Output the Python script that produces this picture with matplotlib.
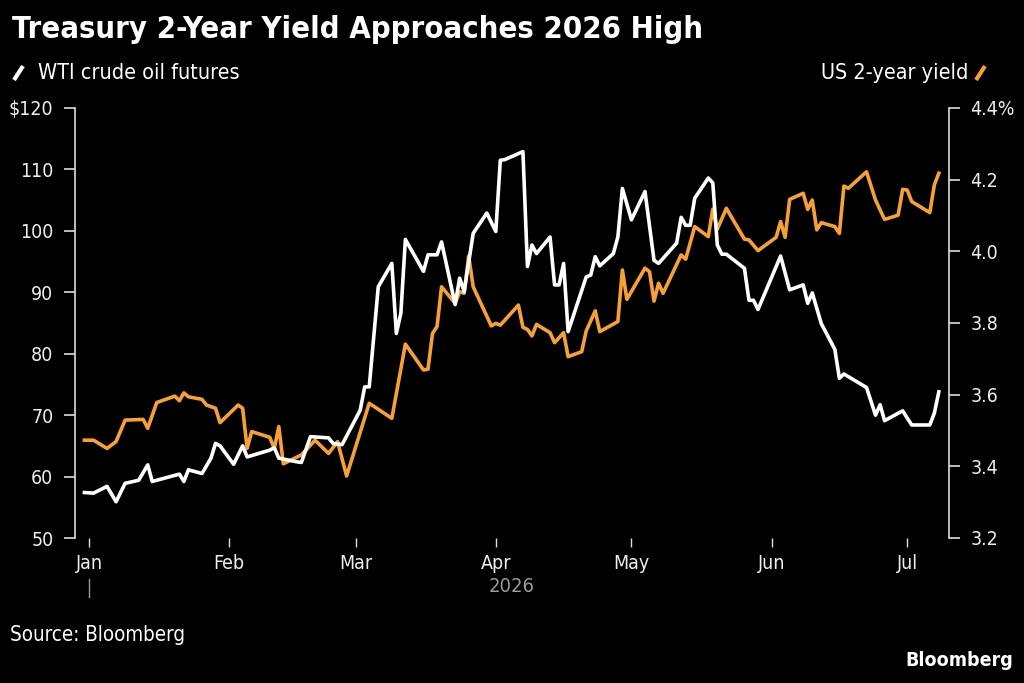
import matplotlib
matplotlib.use("Agg")
import matplotlib.pyplot as plt
import matplotlib.dates as mdates
import matplotlib.transforms as mtrans
import pandas as pd
from matplotlib.lines import Line2D

plt.rcParams["font.family"] = ["DejaVu Sans"]
plt.rcParams["font.stretch"] = "condensed"

# ---------------- data ----------------
oil_dates = ["2025-12-31", "2026-01-02", "2026-01-05", "2026-01-07", "2026-01-09", "2026-01-12",
             "2026-01-14", "2026-01-15", "2026-01-21", "2026-01-22", "2026-01-23", "2026-01-26",
             "2026-01-28", "2026-01-29", "2026-01-30", "2026-02-02", "2026-02-04", "2026-02-05",
             "2026-02-10", "2026-02-11", "2026-02-12", "2026-02-16", "2026-02-17", "2026-02-19",
             "2026-02-23", "2026-02-24", "2026-02-26", "2026-03-02", "2026-03-03", "2026-03-04",
             "2026-03-06", "2026-03-09", "2026-03-10", "2026-03-11", "2026-03-12", "2026-03-16",
             "2026-03-17", "2026-03-19", "2026-03-20", "2026-03-23", "2026-03-24", "2026-03-25",
             "2026-03-27", "2026-03-30", "2026-04-01", "2026-04-02", "2026-04-03", "2026-04-07",
             "2026-04-08", "2026-04-09", "2026-04-10", "2026-04-13", "2026-04-14", "2026-04-15",
             "2026-04-16", "2026-04-17", "2026-04-21", "2026-04-22", "2026-04-23", "2026-04-24",
             "2026-04-27", "2026-04-28", "2026-04-29", "2026-05-01", "2026-05-04", "2026-05-06",
             "2026-05-07", "2026-05-11", "2026-05-12", "2026-05-13", "2026-05-14", "2026-05-15",
             "2026-05-18", "2026-05-19", "2026-05-20", "2026-05-21", "2026-05-22", "2026-05-26",
             "2026-05-27", "2026-05-28", "2026-05-29", "2026-06-03", "2026-06-05", "2026-06-08",
             "2026-06-09", "2026-06-10", "2026-06-12", "2026-06-15", "2026-06-16", "2026-06-17",
             "2026-06-22", "2026-06-24", "2026-06-25", "2026-06-26", "2026-06-30", "2026-07-02",
             "2026-07-06", "2026-07-07", "2026-07-08"]
oil_values = [57.4, 57.3, 58.4, 55.9, 58.9, 59.4,
              61.9, 59.2, 60.4, 59.2, 61.1, 60.5,
              63.0, 65.4, 65.0, 62.0, 65.0, 63.2,
              64.3, 64.7, 63.0, 62.4, 62.3, 66.5,
              66.3, 65.4, 65.2, 70.8, 74.6, 74.6,
              90.9, 94.7, 83.3, 86.6, 98.6, 93.4,
              96.1, 96.1, 98.2, 88.0, 92.3, 90.1,
              99.6, 102.9, 99.9, 111.5, 111.6, 112.9,
              94.2, 97.7, 96.3, 99.0, 91.2, 91.2,
              94.7, 83.6, 92.5, 92.8, 95.8, 94.3,
              96.3, 99.0, 106.9, 101.8, 106.4, 95.2,
              94.7, 98.0, 102.2, 100.9, 100.9, 105.3,
              108.6, 107.8, 97.7, 96.2, 96.2, 93.9,
              88.7, 88.7, 87.2, 95.9, 90.4, 91.2,
              88.2, 89.9, 84.9, 80.7, 76.0, 76.7,
              74.5, 70.0, 71.7, 69.1, 70.7, 68.4,
              68.4, 70.3, 73.8]

yield_dates = ["2025-12-31", "2026-01-02", "2026-01-05", "2026-01-07", "2026-01-09", "2026-01-13",
               "2026-01-14", "2026-01-16", "2026-01-20", "2026-01-21", "2026-01-22", "2026-01-23",
               "2026-01-26", "2026-01-27", "2026-01-29", "2026-01-30", "2026-02-03", "2026-02-04",
               "2026-02-05", "2026-02-06", "2026-02-10", "2026-02-11", "2026-02-12", "2026-02-13",
               "2026-02-17", "2026-02-19", "2026-02-20", "2026-02-23", "2026-02-25", "2026-02-27",
               "2026-03-04", "2026-03-09", "2026-03-12", "2026-03-16", "2026-03-17", "2026-03-18",
               "2026-03-19", "2026-03-20", "2026-03-23", "2026-03-24", "2026-03-25", "2026-03-26",
               "2026-03-27", "2026-03-31", "2026-04-01", "2026-04-02", "2026-04-06", "2026-04-07",
               "2026-04-08", "2026-04-09", "2026-04-10", "2026-04-13", "2026-04-14", "2026-04-16",
               "2026-04-17", "2026-04-20", "2026-04-21", "2026-04-23", "2026-04-24", "2026-04-28",
               "2026-04-29", "2026-04-30", "2026-05-04", "2026-05-05", "2026-05-06", "2026-05-07",
               "2026-05-08", "2026-05-12", "2026-05-13", "2026-05-15", "2026-05-18", "2026-05-19",
               "2026-05-20", "2026-05-22", "2026-05-26", "2026-05-27", "2026-05-29", "2026-06-02",
               "2026-06-03", "2026-06-04", "2026-06-05", "2026-06-08", "2026-06-09", "2026-06-10",
               "2026-06-11", "2026-06-12", "2026-06-15", "2026-06-16", "2026-06-17", "2026-06-18",
               "2026-06-22", "2026-06-24", "2026-06-26", "2026-06-29", "2026-06-30", "2026-07-01",
               "2026-07-02", "2026-07-06", "2026-07-07", "2026-07-08"]
yield_values = [3.473, 3.473, 3.450, 3.469, 3.529, 3.531,
                3.506, 3.578, 3.596, 3.583, 3.605, 3.594,
                3.587, 3.571, 3.562, 3.522, 3.571, 3.562,
                3.450, 3.497, 3.481, 3.450, 3.511, 3.407,
                3.432, 3.459, 3.473, 3.436, 3.469, 3.373,
                3.576, 3.534, 3.741, 3.669, 3.671, 3.771,
                3.790, 3.901, 3.855, 3.887, 3.883, 3.987,
                3.901, 3.792, 3.799, 3.794, 3.850, 3.788,
                3.782, 3.764, 3.796, 3.773, 3.745, 3.773,
                3.706, 3.720, 3.778, 3.834, 3.776, 3.804,
                3.948, 3.866, 3.953, 3.943, 3.861, 3.911,
                3.883, 3.990, 3.978, 4.069, 4.041, 4.118,
                4.062, 4.120, 4.034, 4.032, 4.002, 4.039,
                4.083, 4.039, 4.145, 4.162, 4.117, 4.143,
                4.060, 4.080, 4.069, 4.050, 4.182, 4.176,
                4.222, 4.143, 4.089, 4.101, 4.173, 4.171,
                4.139, 4.108, 4.185, 4.218]

oil_ticks = [50, 60, 70, 80, 90, 100, 110, 120]
oil_tick_labels = ["50", "60", "70", "80", "90", "100", "110", "$120"]
yield_ticks = [3.2, 3.4, 3.6, 3.8, 4.0, 4.2, 4.4]
yield_tick_labels = ["3.2", "3.4", "3.6", "3.8", "4.0", "4.2", "4.4%"]
month_ticks = ["2026-01-01", "2026-02-01", "2026-03-01", "2026-04-01", "2026-05-01",
               "2026-06-01", "2026-07-01"]
month_labels = ["Jan", "Feb", "Mar", "Apr", "May", "Jun", "Jul"]

title = "Treasury 2-Year Yield Approaches 2026 High"
oil_label = "WTI crude oil futures"
yield_label = "US 2-year yield"

# ---------------- style ----------------
BG = "black"
WHITE = "#FFFFFF"
ORANGE = "#F7A035"
AXCOL = "#DDDDDD"
GREY = "#9A9A9A"

W, H = 1024, 683
fig = plt.figure(figsize=(W / 100, H / 100), dpi=100, facecolor=BG)
ax = fig.add_axes([75 / W, 1 - 538 / H, (949 - 75) / W, 430 / H])
ax2 = ax.twinx()
ax2.set_facecolor(BG)
ax.set_zorder(ax2.get_zorder() + 1)
ax.patch.set_visible(False)

od = mdates.date2num(pd.to_datetime(oil_dates))
yd = mdates.date2num(pd.to_datetime(yield_dates))
ax2.plot(yd, yield_values, color=ORANGE, lw=2.6)
ax.plot(od, oil_values, color=WHITE, lw=2.6)

ax.set_ylim(50, 120)
ax2.set_ylim(3.2, 4.4)
ax.set_xlim(mdates.date2num(pd.Timestamp("2025-12-28 22:00")),
            mdates.date2num(pd.Timestamp("2026-07-10 06:00")))

for a in (ax, ax2):
    for s in a.spines.values():
        s.set_visible(False)
ax.spines["left"].set_visible(True)
ax.spines["left"].set_color(AXCOL)
ax.spines["left"].set_linewidth(1.2)
ax2.spines["right"].set_visible(True)
ax2.spines["right"].set_color(AXCOL)
ax2.spines["right"].set_linewidth(1.2)

ax.set_yticks(oil_ticks)
ax.set_yticklabels(oil_tick_labels)
ax2.set_yticks(yield_ticks)
ax2.set_yticklabels(yield_tick_labels)
ax.set_xticks(mdates.date2num(pd.to_datetime(month_ticks)))
ax.set_xticklabels(month_labels)

ax.tick_params(axis="y", direction="out", length=8, width=1.2, color=AXCOL,
               labelcolor="#EEEEEE", labelsize=14, pad=7.5)
ax2.tick_params(axis="y", direction="out", length=8, width=1.2, color=AXCOL,
                labelcolor="#EEEEEE", labelsize=14, pad=7.5)
ax.tick_params(axis="x", direction="out", length=6.5, width=1.0, color=AXCOL,
               labelcolor="#EEEEEE", labelsize=14, pad=5)

# year label and year tick
ax.text(0.5, 1 - 586 / H, "2026", transform=mtrans.blended_transform_factory(ax.transAxes, fig.transFigure),
        ha="center", va="center", color=GREY, fontsize=14.5)
tr = mtrans.blended_transform_factory(ax.transData, fig.transFigure)
jan1 = mdates.date2num(pd.Timestamp("2026-01-01"))
ax.add_line(Line2D([jan1, jan1], [1 - 579 / H, 1 - 597 / H], transform=tr,
                   color=GREY, lw=1.0, clip_on=False))

# titles and legend
fig.text(12 / W, 1 - 30 / H, title, color=WHITE, fontsize=22.2, fontweight="bold",
         ha="left", va="center")
fig.text(38 / W, 1 - 73 / H, oil_label, color=WHITE, fontsize=15.5, ha="left", va="center")
fig.lines.append(Line2D([14 / W, 23 / W], [1 - 80 / H, 1 - 66 / H], transform=fig.transFigure,
                        color=WHITE, lw=3.0, solid_capstyle="butt"))
fig.text(968 / W, 1 - 73 / H, yield_label, color=WHITE, fontsize=15.5, ha="right", va="center")
fig.lines.append(Line2D([976 / W, 985 / W], [1 - 80 / H, 1 - 66 / H], transform=fig.transFigure,
                        color=ORANGE, lw=3.0, solid_capstyle="butt"))

fig.text(10 / W, 1 - 635 / H, "Source: Bloomberg", color=WHITE, fontsize=14.8,
         ha="left", va="center")
fig.text(1013 / W, 1 - 661 / H, "Bloomberg", color=WHITE, fontsize=14, fontweight="bold",
         ha="right", va="center")

fig.savefig("out.png", dpi=100, facecolor=BG)
